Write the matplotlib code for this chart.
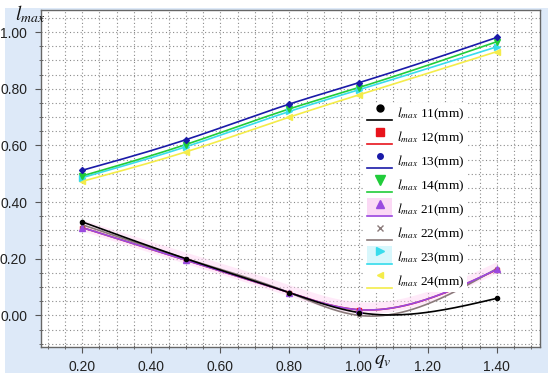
import numpy as np
import matplotlib
matplotlib.use('Agg')
import matplotlib.pyplot as plt
from matplotlib.legend_handler import HandlerBase
from matplotlib.lines import Line2D
from matplotlib.patches import Rectangle
from matplotlib.ticker import MultipleLocator, FormatStrFormatter

plt.rcParams['mathtext.fontset'] = 'stix'

# ---- data ----
qv = [0.2, 0.5, 0.8, 1.0, 1.4]
l11 = [0.330, 0.200, 0.080, 0.010, 0.060]
l12 = [0.310, 0.195, 0.080, 0.020, 0.161]
l13 = [0.512, 0.620, 0.746, 0.821, 0.981]
l14 = [0.492, 0.603, 0.729, 0.804, 0.966]
l21 = [0.310, 0.195, 0.080, 0.020, 0.162]
l22 = [0.320, 0.200, 0.080, 0.000, 0.165]
l23 = [0.486, 0.595, 0.720, 0.796, 0.948]
l24 = [0.473, 0.577, 0.700, 0.778, 0.931]
labels = ['11', '12', '13', '14', '21', '22', '23', '24']

def natural_spline(x, y, xs):
    x = np.asarray(x, float); y = np.asarray(y, float)
    n = len(x); h = np.diff(x)
    A = np.zeros((n, n)); b = np.zeros(n)
    A[0, 0] = 1; A[-1, -1] = 1
    for i in range(1, n - 1):
        A[i, i - 1] = h[i - 1]; A[i, i] = 2 * (h[i - 1] + h[i]); A[i, i + 1] = h[i]
        b[i] = 3 * ((y[i + 1] - y[i]) / h[i] - (y[i] - y[i - 1]) / h[i - 1])
    c = np.linalg.solve(A, b)
    out = np.empty_like(xs)
    for k, xv in enumerate(xs):
        i = min(max(np.searchsorted(x, xv) - 1, 0), n - 2)
        t = xv - x[i]
        bi = (y[i + 1] - y[i]) / h[i] - h[i] * (2 * c[i] + c[i + 1]) / 3
        di = (c[i + 1] - c[i]) / (3 * h[i])
        out[k] = y[i] + bi * t + c[i] * t ** 2 + di * t ** 3
    return out

W, H = 550, 381
fig = plt.figure(figsize=(W / 100, H / 100), dpi=100)
fig.patch.set_facecolor('white')
fig.patches.append(Rectangle((5 / W, 8 / H), 543 / W, (373 - 8) / H,
                             transform=fig.transFigure, facecolor='#dde9f8',
                             edgecolor='none', zorder=-10))

ax = fig.add_axes([41 / W, 1 - 346.5 / H, (540 - 41) / W, (346.5 - 10) / H])
ax.set_facecolor('white')
ax.set_xlim(0.081, 1.525)
ax.set_ylim(-0.11, 1.078)

xs = np.linspace(0.2, 1.4, 200)

series = [
    (l24, '#f4ec4a', '<', 4),
    (l23, '#38dcec', '>', 4),
    (l14, '#20cc3a', 'v', 4),
    (l13, '#1a1aa8', 'D', 3),
    (l12, '#e8141c', 's', 3),
    (l22, '#8a7a7a', 'x', 3),
    (l21, '#9a4ae0', '^', 4),
    (l11, '#000000', 'o', 3),
]

# pink band around the l21 curve
ys21 = natural_spline(qv, l21, xs)
ax.fill_between(xs, ys21 - 0.012, ys21 + 0.028, color='#ffd2f2', alpha=0.45,
                lw=0, zorder=1)

for vals, col, mk, ms in series:
    ys = natural_spline(qv, vals, xs)
    ax.plot(xs, ys, color=col, lw=1.2, zorder=2)
    ax.plot(qv, vals, ls='none', marker=mk, color=col, ms=ms, mew=1, zorder=3)

# grid & ticks
ax.xaxis.set_major_locator(MultipleLocator(0.2))
ax.xaxis.set_minor_locator(MultipleLocator(0.05))
ax.yaxis.set_major_locator(MultipleLocator(0.2))
ax.yaxis.set_minor_locator(MultipleLocator(0.05))
ax.xaxis.set_major_formatter(FormatStrFormatter('%.2f'))
ax.yaxis.set_major_formatter(FormatStrFormatter('%.2f'))
ax.grid(which='both', color='#8a8a8a', lw=0.8, ls=(0, (1, 2.2)), zorder=0)
ax.set_axisbelow(True)
ax.tick_params(which='major', direction='out', length=4, color='#555555',
               labelsize=10, pad=6, labelcolor='#222222')
ax.tick_params(which='minor', direction='inout', length=3, color='#555555')
for lab in ax.get_xticklabels() + ax.get_yticklabels():
    lab.set_fontfamily('Liberation Sans')
for s in ax.spines.values():
    s.set_color('#666666'); s.set_linewidth(1.0)

fig.text(15 / W, 1 - 20 / H, r'$l_{max}$', fontsize=14, color='#111111')
fig.text(374 / W, 1 - 364 / H, r'$q_{v}$', fontsize=14, color='#111111')

# legend: marker above line
class MarkerAboveLine(HandlerBase):
    def __init__(self, band=None):
        super().__init__()
        self.band = band

    def create_artists(self, legend, orig_handle, xdescent, ydescent, width,
                       height, fontsize, trans):
        arts = []
        if self.band is not None:
            r = Rectangle((-xdescent, -0.3 * fontsize), width, 1.45 * fontsize,
                          facecolor=self.band, edgecolor='none', transform=trans)
            arts.append(r)
        col = orig_handle.get_color()
        ln = Line2D([-xdescent, width - xdescent], [-0.2 * fontsize] * 2,
                    color=col, lw=1.2, transform=trans)
        mk = Line2D([(width - xdescent) / 2 + 0.1 * fontsize],
                    [0.72 * fontsize], ls='none',
                    marker=orig_handle.get_marker(), color=col,
                    ms=orig_handle.get_markersize(), mew=1, transform=trans)
        arts += [ln, mk]
        return arts

leg_specs = [
    ('#000000', 'o', 5, None), ('#e8141c', 's', 5.5, None),
    ('#1a1aa8', 'o', 4, None), ('#20cc3a', 'v', 7, None),
    ('#9a4ae0', '^', 6, '#fbd9f5'), ('#8a7a7a', 'x', 4, None),
    ('#38dcec', '>', 6, '#d8f7fc'), ('#f4ec4a', '<', 5, None),
]
handles = []
hmap = {}
for col, mk, ms, band in leg_specs:
    h = Line2D([], [], color=col, marker=mk, ms=ms)
    handles.append(h)
    hmap[h] = MarkerAboveLine(band)
leg_labels = [r'$l_{max}$' + ' ' + s + '(mm)' for s in labels]
leg = ax.legend(handles, leg_labels, handler_map=hmap,
                loc='upper left', bbox_to_anchor=(364 / W, 1 - 103 / H),
                bbox_transform=fig.transFigure, frameon=True, framealpha=1,
                facecolor='white', edgecolor='none', fancybox=False,
                borderpad=0.2, borderaxespad=0, handlelength=1.9,
                handleheight=1.35, handletextpad=0.4, labelspacing=0.56,
                prop={'family': 'Liberation Serif', 'size': 9.5})
leg.set_zorder(5)

fig.savefig('out.png', dpi=100, facecolor=fig.get_facecolor())
